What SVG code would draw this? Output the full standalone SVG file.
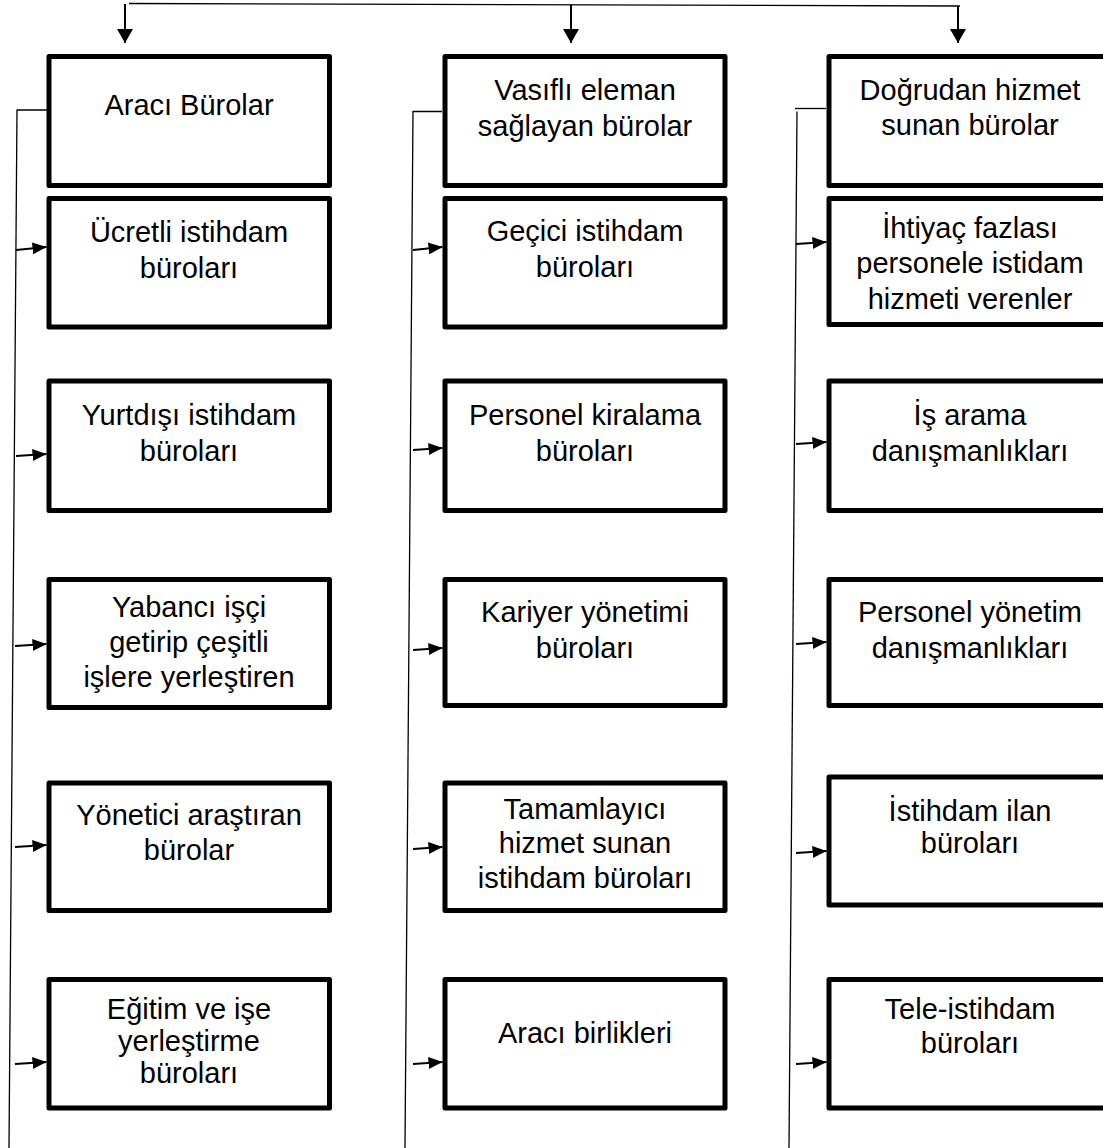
<svg xmlns="http://www.w3.org/2000/svg" width="1103" height="1148" viewBox="0 0 1103 1148">
<style>
.box{fill:#fff;stroke:#000;stroke-width:5;stroke-linejoin:round}
.t{font-family:"Liberation Sans",Arial,sans-serif;font-size:29px;fill:#000;text-anchor:middle}
.thin{fill:none;stroke:#000;stroke-width:1.3}
.arr{fill:none;stroke:#000;stroke-width:2}
</style>
<defs>
<marker id="ahd" viewBox="0 0 14 16" refX="14" refY="8" markerWidth="14" markerHeight="16" orient="auto" markerUnits="userSpaceOnUse"><path d="M0,0 L14,8 L0,16 z" fill="#000"/></marker>
<marker id="ahs" viewBox="0 0 14 12" refX="14" refY="6" markerWidth="14" markerHeight="12" orient="auto" markerUnits="userSpaceOnUse"><path d="M0,0 L14,6 L0,12 z" fill="#000"/></marker>
</defs>
<rect width="1103" height="1148" fill="#fff"/>
<g id="connectors">
<line class="thin" x1="129" y1="3.5" x2="960" y2="6"/>
<line class="arr" x1="125" y1="4" x2="125" y2="43" marker-end="url(#ahd)"/>
<line class="arr" x1="571" y1="5" x2="571" y2="43" marker-end="url(#ahd)"/>
<line class="arr" x1="958" y1="6" x2="958" y2="43" marker-end="url(#ahd)"/>
<polyline class="thin" points="47,110 17,110 9,1148"/>
<polyline class="thin" points="442,111.5 413,111.5 405,1148"/>
<line class="thin" x1="826" y1="108.5" x2="795" y2="108.5"/>
<line class="thin" x1="797" y1="111.5" x2="789" y2="1148"/>
<line class="arr" x1="16" y1="250" x2="46.5" y2="247" marker-end="url(#ahs)"/>
<line class="arr" x1="16" y1="456" x2="46.5" y2="454" marker-end="url(#ahs)"/>
<line class="arr" x1="15" y1="646" x2="46.5" y2="644" marker-end="url(#ahs)"/>
<line class="arr" x1="15" y1="847" x2="46.5" y2="845" marker-end="url(#ahs)"/>
<line class="arr" x1="15" y1="1064" x2="46.5" y2="1062" marker-end="url(#ahs)"/>
<line class="arr" x1="413" y1="250" x2="442.5" y2="247" marker-end="url(#ahs)"/>
<line class="arr" x1="413" y1="450" x2="442.5" y2="448" marker-end="url(#ahs)"/>
<line class="arr" x1="413" y1="650" x2="442.5" y2="648" marker-end="url(#ahs)"/>
<line class="arr" x1="413" y1="849" x2="442.5" y2="847" marker-end="url(#ahs)"/>
<line class="arr" x1="413" y1="1064" x2="442.5" y2="1062" marker-end="url(#ahs)"/>
<line class="arr" x1="796" y1="244" x2="826.5" y2="242" marker-end="url(#ahs)"/>
<line class="arr" x1="796" y1="444" x2="826.5" y2="442" marker-end="url(#ahs)"/>
<line class="arr" x1="796" y1="644" x2="826.5" y2="642" marker-end="url(#ahs)"/>
<line class="arr" x1="796" y1="853" x2="826.5" y2="851" marker-end="url(#ahs)"/>
<line class="arr" x1="796" y1="1064" x2="826.5" y2="1062" marker-end="url(#ahs)"/>
</g>
<g id="n-araci-burolar"><rect class="box" x="49" y="56.5" width="280.5" height="129"/><text class="t" x="189" y="115">Aracı Bürolar</text></g>
<g id="n-ucretli"><rect class="box" x="49" y="198.5" width="280.5" height="128.5"/><text class="t" x="189" y="242">Ücretli istihdam</text><text class="t" x="189" y="278">büroları</text></g>
<g id="n-yurtdisi"><rect class="box" x="49" y="381" width="280.5" height="129.5"/><text class="t" x="189" y="425">Yurtdışı istihdam</text><text class="t" x="189" y="461">büroları</text></g>
<g id="n-yabanci"><rect class="box" x="49" y="579.5" width="280.5" height="128"/><text class="t" x="189" y="617">Yabancı işçi</text><text class="t" x="189" y="652">getirip çeşitli</text><text class="t" x="189" y="687">işlere yerleştiren</text></g>
<g id="n-yonetici"><rect class="box" x="49" y="783" width="280.5" height="127.5"/><text class="t" x="189" y="825">Yönetici araştıran</text><text class="t" x="189" y="860">bürolar</text></g>
<g id="n-egitim"><rect class="box" x="49" y="979.5" width="280.5" height="128.5"/><text class="t" x="189" y="1019">Eğitim ve işe</text><text class="t" x="189" y="1051">yerleştirme</text><text class="t" x="189" y="1083">büroları</text></g>
<g id="n-vasifli"><rect class="box" x="445" y="56.5" width="280" height="129"/><text class="t" x="585" y="100">Vasıflı eleman</text><text class="t" x="585" y="136">sağlayan bürolar</text></g>
<g id="n-gecici"><rect class="box" x="445" y="198.5" width="280" height="128.5"/><text class="t" x="585" y="241">Geçici istihdam</text><text class="t" x="585" y="277">büroları</text></g>
<g id="n-personel-kiralama"><rect class="box" x="445" y="381" width="280" height="129.5"/><text class="t" x="585" y="425">Personel kiralama</text><text class="t" x="585" y="461">büroları</text></g>
<g id="n-kariyer"><rect class="box" x="445" y="579.5" width="280" height="126"/><text class="t" x="585" y="622">Kariyer yönetimi</text><text class="t" x="585" y="658">büroları</text></g>
<g id="n-tamamlayici"><rect class="box" x="445" y="783" width="280" height="127.5"/><text class="t" x="585" y="819">Tamamlayıcı</text><text class="t" x="585" y="853">hizmet sunan</text><text class="t" x="585" y="888">istihdam büroları</text></g>
<g id="n-araci-birlikleri"><rect class="box" x="445" y="979.5" width="280" height="128.5"/><text class="t" x="585" y="1043">Aracı birlikleri</text></g>
<g id="n-dogrudan"><rect class="box" x="829" y="56.5" width="290" height="129"/><text class="t" x="970" y="100">Doğrudan hizmet</text><text class="t" x="970" y="135">sunan bürolar</text></g>
<g id="n-ihtiyac"><rect class="box" x="829" y="198.5" width="290" height="126"/><text class="t" x="970" y="238">İhtiyaç fazlası</text><text class="t" x="970" y="273">personele istidam</text><text class="t" x="970" y="309">hizmeti verenler</text></g>
<g id="n-is-arama"><rect class="box" x="829" y="381" width="290" height="129.5"/><text class="t" x="970" y="425">İş arama</text><text class="t" x="970" y="461">danışmanlıkları</text></g>
<g id="n-personel-yonetim"><rect class="box" x="829" y="579.5" width="290" height="126"/><text class="t" x="970" y="622">Personel yönetim</text><text class="t" x="970" y="658">danışmanlıkları</text></g>
<g id="n-istihdam-ilan"><rect class="box" x="829" y="777" width="290" height="128"/><text class="t" x="970" y="821">İstihdam ilan</text><text class="t" x="970" y="853">büroları</text></g>
<g id="n-tele"><rect class="box" x="829" y="979.5" width="290" height="128.5"/><text class="t" x="970" y="1019">Tele-istihdam</text><text class="t" x="970" y="1053">büroları</text></g>
</svg>
